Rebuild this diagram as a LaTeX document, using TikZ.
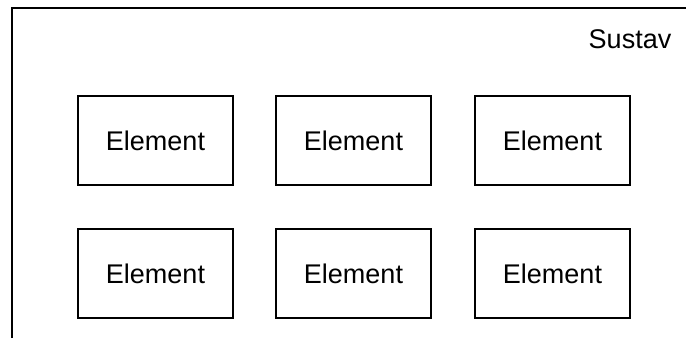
\documentclass[tikz,border=0pt]{standalone}
\usepackage{fontspec}
\setmainfont{Liberation Sans}
\begin{document}
\begin{tikzpicture}[x=0.5pt,y=-0.5pt,
        elem/.style={draw,line width=0.9pt,minimum width=77.5pt,minimum height=44.5pt,inner sep=0pt,font=\fontsize{13.5}{16}\selectfont}]
        \useasboundingbox (0,0) rectangle (686,338);
        \draw[line width=1pt] (12,338)--(12,8)--(686,8);
        \node[font=\fontsize{13.5}{16}\selectfont] (sustav) at (630,39) {Sustav};

        \node[elem] (e1) at (155.5,140.5) {Element};
        \node[elem] (e2) at (353.5,140.5) {Element};
        \node[elem] (e3) at (552.5,140.5) {Element};

        \node[elem] (e4) at (155.5,273.5) {Element};
        \node[elem] (e5) at (353.5,273.5) {Element};
        \node[elem] (e6) at (552.5,273.5) {Element};
    \end{tikzpicture}
\end{document}
